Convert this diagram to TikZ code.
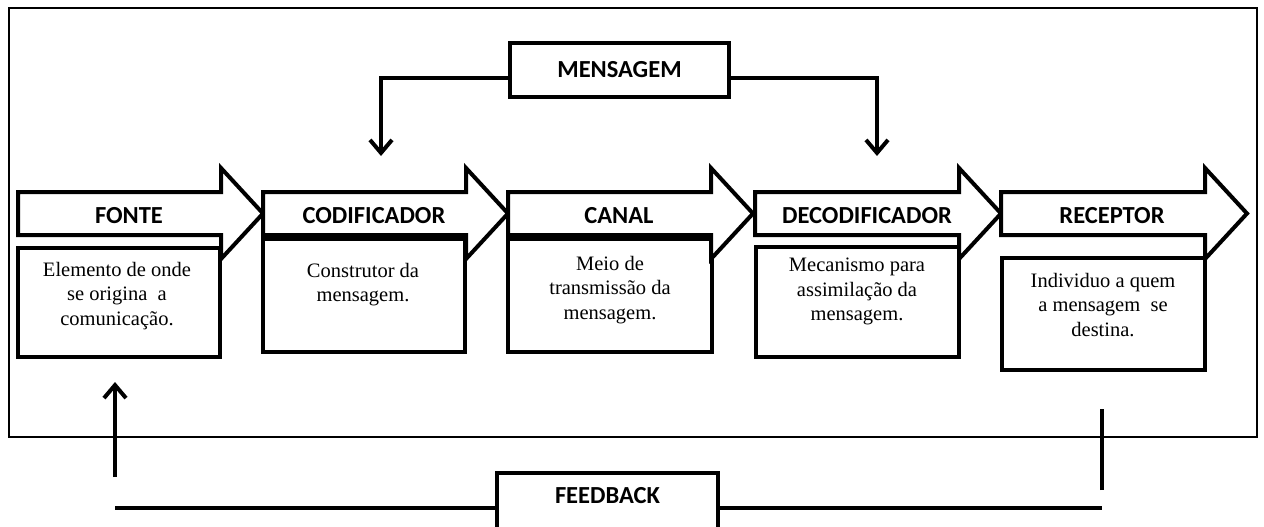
\documentclass[tikz,border=0pt]{standalone}
\usepackage{fontspec}
\setmainfont{Liberation Serif}
\newfontfamily\lblfont{Carlito}
\usetikzlibrary{arrows.meta}
\begin{document}
\begin{tikzpicture}[x=1pt,y=-1pt,
  lbl/.style={font=\lblfont\bfseries\fontsize{24.5}{28}\selectfont, inner sep=0pt},
  desc/.style={font=\fontsize{20.5}{24.5}\selectfont, align=center, inner sep=0pt, anchor=north},
  dbox/.style={draw, fill=white, line width=4pt, inner sep=0pt},
  lbox/.style={draw, fill=white, line width=4pt, inner sep=0pt},
  arrowsh/.style={draw, fill=white, line width=4pt, line join=miter, miter limit=10},
  conn/.style={line width=4pt},
  connarr/.style={line width=4pt, -{Straight Barb[length=13pt,width=22pt]}}
]
\clip (0,0) rectangle (1264,527);
\fill[white] (0,0) rectangle (1264,527);
% frame
\node[draw, line width=2.5pt, minimum width=1248pt, minimum height=429pt, inner sep=0pt] (frame) at (633,222.5) {};
% description boxes
\node[dbox, minimum width=202pt, minimum height=109pt] (fonteB) at (119,302.5) {};
\node[dbox, minimum width=202pt, minimum height=113pt] (codB) at (364,295.5) {};
\node[dbox, minimum width=204pt, minimum height=113pt] (canB) at (610,295.5) {};
\node[dbox, minimum width=203pt, minimum height=110pt] (decB) at (857.5,302) {};
\node[dbox, minimum width=203pt, minimum height=112pt] (recB) at (1103.5,314) {};
% block arrows
\draw[arrowsh] (18,192) -- (221,192) -- (221,168) -- (263,213.5) -- (221,259) -- (221,235) -- (18,235) -- cycle;
\draw[arrowsh] (263,192) -- (466,192) -- (466,168) -- (508,213.5) -- (466,259) -- (466,235) -- (263,235) -- cycle;
\draw[arrowsh] (508,192) -- (711,192) -- (711,168) -- (753,213.5) -- (711,259) -- (711,235) -- (508,235) -- cycle;
\draw[arrowsh] (755,192) -- (959,192) -- (959,168) -- (1001,213.5) -- (959,259) -- (959,235) -- (755,235) -- cycle;
\draw[arrowsh] (1001,192) -- (1205,192) -- (1205,168) -- (1247,213.5) -- (1205,259) -- (1205,235) -- (1001,235) -- cycle;
\node[lbl] (fonte) at (129,216) {FONTE};
\node[lbl] (cod) at (374,216) {CODIFICADOR};
\node[lbl] (can) at (619,216) {CANAL};
\node[lbl] (dec) at (867,216) {DECODIFICADOR};
\node[lbl] (rec) at (1112,216) {RECEPTOR};
% description texts
\node[desc] (fonteT) at (117,262) {Elemento de onde\\se origina \ a\\comunicação.};
\node[desc] (codT) at (363,263) {Construtor da\\mensagem.};
\node[desc] (canT) at (610,256) {Meio de\\transmissão da\\mensagem.};
\node[desc] (decT) at (857,258) {Mecanismo para\\assimilação da\\mensagem.};
\node[desc] (recT) at (1103,273) {Individuo a quem\\a mensagem \ se\\destina.};
% MENSAGEM
\node[lbox, lbl, minimum width=219pt, minimum height=54pt] (mens) at (619.5,70) {MENSAGEM};
\coordinate (mL) at (381,156);
\coordinate (mR) at (877,156);
\draw[connarr] ([yshift=-8pt]mens.west) -| (mL);
\draw[connarr] ([yshift=-8pt]mens.east) -| (mR);
% FEEDBACK
\node[lbox, minimum width=221pt, minimum height=70pt] (fb) at (607.5,508) {};
\node[lbl] (fbt) at (607.5,496) {FEEDBACK};
\coordinate (fbL) at (115,508);
\coordinate (fbR) at (1102,508);
\coordinate (upS) at (115,477);
\coordinate (upE) at (115,382);
\coordinate (vT) at (1102,409);
\coordinate (vB) at (1102,490);
\draw[conn] (fb.west) -- (fbL);
\draw[conn] (fb.east) -- (fbR);
\draw[connarr] (upS) -- (upE);
\draw[conn] (vB) -- (vT);
\end{tikzpicture}
\end{document}
